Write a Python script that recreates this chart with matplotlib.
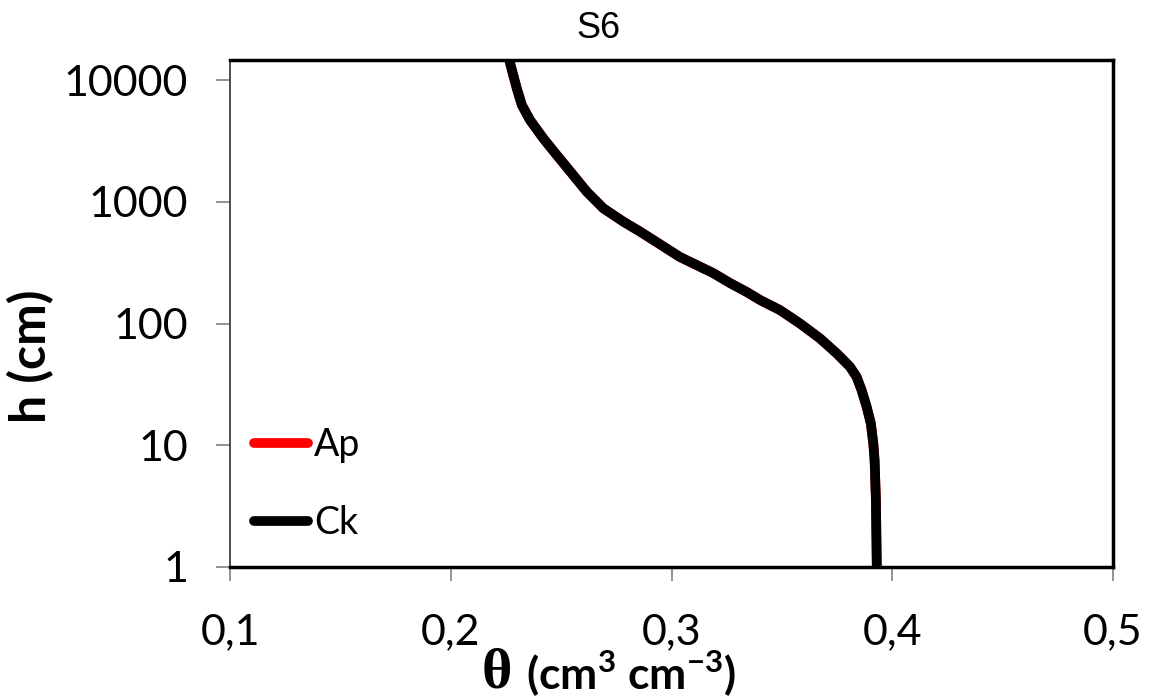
import matplotlib
matplotlib.use("Agg")
import matplotlib.pyplot as plt

plt.rcParams['font.family'] = ['Lato', 'DejaVu Sans']
plt.rcParams['mathtext.fontset'] = 'custom'
plt.rcParams['mathtext.bf'] = 'Lato:bold'
plt.rcParams['mathtext.rm'] = 'Lato:bold'

# retention curve (h in cm, theta in cm3/cm3)
h_vals = [1, 3.55, 7.57, 10.4, 15.1, 20.7, 28.4, 36.6, 44.2, 56.9, 75.6,
          100, 129, 156, 181, 215, 260, 352, 568, 686, 884, 1210, 1713,
          2420, 3320, 4690, 6230, 8550, 10990, 14600]
theta_ap = [0.393, 0.3926, 0.3920, 0.3914, 0.3903, 0.3884, 0.3861, 0.3838,
            0.3808, 0.3748, 0.3672, 0.3582, 0.3491, 0.3401, 0.3342, 0.3265,
            0.3188, 0.3038, 0.2858, 0.2782, 0.2691, 0.2616, 0.2548, 0.2480,
            0.2419, 0.2359, 0.2322, 0.2299, 0.2283, 0.2265]
theta_ck = list(theta_ap)

x_ticks = [0.1, 0.2, 0.3, 0.4, 0.5]
x_labels = ['0,1', '0,2', '0,3', '0,4', '0,5']
y_ticks = [1, 10, 100, 1000, 10000]
y_labels = ['1', '10', '100', '1000', '10000']

fig = plt.figure(figsize=(11.56, 6.98), dpi=100)
ax = fig.add_axes([230 / 1156, 131 / 698, 883 / 1156, 507 / 698])

ax.plot(theta_ap, h_vals, color='red', lw=7, solid_capstyle='butt',
        solid_joinstyle='round', label='Ap')
ax.plot(theta_ck, h_vals, color='black', lw=7, solid_capstyle='butt',
        solid_joinstyle='round', label='Ck')

ax.set_yscale('log')
ax.set_xlim(0.1, 0.5)
ax.set_ylim(1, 14600)
ax.set_xticks(x_ticks)
ax.set_xticklabels(x_labels)
ax.set_yticks(y_ticks)
ax.set_yticklabels(y_labels)
ax.minorticks_off()
ax.tick_params(axis='both', direction='out', length=10, width=1.2,
               color='#808080', labelsize=31)
ax.tick_params(axis='y', pad=20)
ax.tick_params(axis='x', pad=23)

for side in ['top', 'right', 'bottom']:
    ax.spines[side].set_linewidth(2.5)
    ax.spines[side].set_color('black')
ax.spines['left'].set_linewidth(1.3)
ax.spines['left'].set_color('#404040')

fig.text(598 / 1156, 1 - 28 / 698, 'S6', fontsize=26, family='Liberation Sans',
         ha='center', va='center')

fig.text(31 / 1156, 1 - 356 / 698, 'h (cm)', rotation=90, fontsize=36,
         fontweight='bold', ha='center', va='center')
fig.text(482 / 1156, 1 - 673 / 698, 'θ', fontsize=42, fontweight='bold',
         family='Liberation Serif', ha='left', va='center')
fig.text(526 / 1156, 1 - 674 / 698, r'(cm$^{\mathbf{3}}$ cm$^{\mathbf{-3}}$)',
         fontsize=32, fontweight='bold', ha='left', va='center')

leg = ax.legend(loc='upper left', bbox_to_anchor=(0.01, 0.305), frameon=False,
                fontsize=27, handlelength=1.45, handletextpad=0.15,
                labelspacing=1.12, borderaxespad=0)
for line in leg.get_lines():
    line.set_solid_capstyle('round')

fig.savefig('out.png', dpi=100)
